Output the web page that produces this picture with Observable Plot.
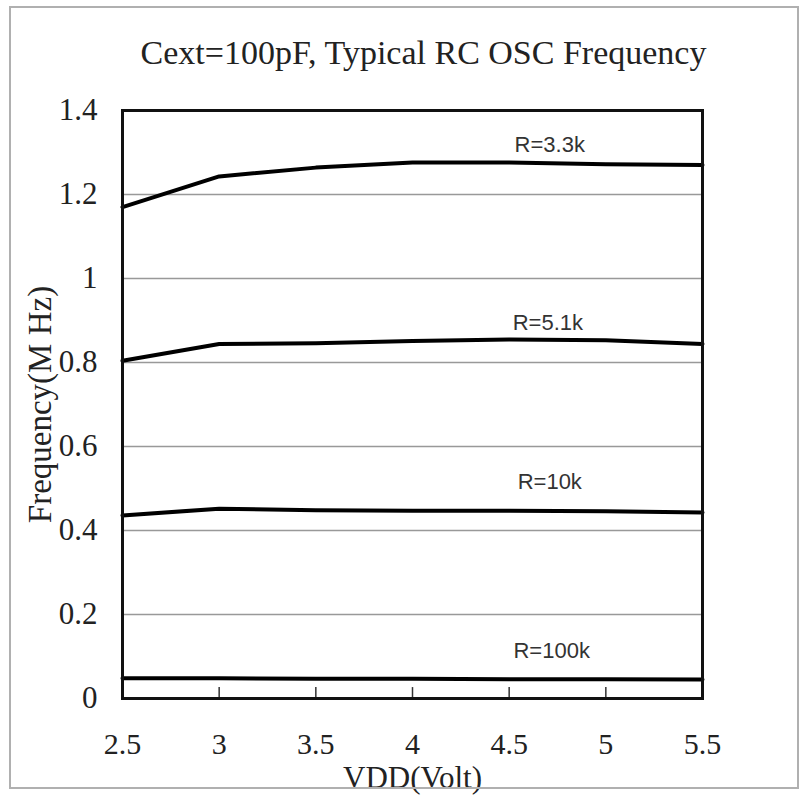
<!DOCTYPE html>
<html>
<head>
<meta charset="utf-8">
<script src="https://cdn.jsdelivr.net/npm/d3@7"></script>
<script src="https://cdn.jsdelivr.net/npm/@observablehq/plot@0.6"></script>
<style>
  html, body { margin: 0; padding: 0; background: #fff; }
  #wrap { position: relative; width: 800px; height: 798px; }
  #border { position: absolute; left: 9px; top: 6px; width: 786px; height: 779px; border: 2px solid #b0b0b0; pointer-events: none; }
</style>
</head>
<body>
<div id="wrap"><div id="border"></div><div id="chart"></div></div>
<script>
// ---- data ----
const vdd = [2.5, 3, 3.5, 4, 4.5, 5, 5.5];
const r33k = [1.17, 1.243, 1.264, 1.276, 1.276, 1.272, 1.27];
const r51k = [0.804, 0.844, 0.846, 0.851, 0.855, 0.853, 0.844];
const r10k = [0.436, 0.452, 0.448, 0.447, 0.447, 0.446, 0.443];
const r100k = [0.048, 0.048, 0.047, 0.047, 0.046, 0.046, 0.045];
const seriesNames = ["R=3.3k", "R=5.1k", "R=10k", "R=100k"];
const labelX = [4.71, 4.7, 4.71, 4.72];
const labelY = [1.318, 0.893, 0.516, 0.113];
const yTicks = [0, 0.2, 0.4, 0.6, 0.8, 1, 1.2, 1.4];
const xTicks = [2.5, 3, 3.5, 4, 4.5, 5, 5.5];
const innerTicks = [3, 3.5, 4, 4.5, 5];
const titleText = "Cext=100pF, Typical RC OSC Frequency";
const xLabel = "VDD(Volt)";
const yLabel = "Frequency(M Hz)";

const allSeries = [r33k, r51k, r10k, r100k];
const rows = seriesNames.flatMap((name, i) => vdd.map((v, j) => ({name, vdd: v, f: allSeries[i][j]})));
const labels = seriesNames.map((name, i) => ({name, x: labelX[i], y: labelY[i]}));

const serif = "'Liberation Serif', 'Times New Roman', serif";
const sans = "'Liberation Sans', Arial, sans-serif";

const chart = Plot.plot({
  width: 800,
  height: 798,
  marginLeft: 122,
  marginRight: 98,
  marginTop: 110,
  marginBottom: 100,
  style: {background: "transparent", fontFamily: serif, color: "#222"},
  x: {domain: [2.5, 5.5]},
  y: {domain: [0, 1.4]},
  marks: [
    Plot.ruleY(yTicks.slice(1, -1), {stroke: "#999", strokeWidth: 1.5}),
    Plot.ruleX(innerTicks, {y1: 0, y2: 0.026, stroke: "#333", strokeWidth: 1.5}),
    Plot.line(rows, {x: "vdd", y: "f", z: "name", stroke: "#000", strokeWidth: 4, strokeLinejoin: "round"}),
    Plot.text(labels, {x: "x", y: "y", text: "name", fontFamily: sans, fontSize: 22, fill: "#333"}),
    Plot.frame({stroke: "#111", strokeWidth: 3}),
    Plot.axisY({ticks: yTicks, tickSize: 0, tickPadding: 25, fontSize: 31, fontFamily: serif, fill: "#222",
      tickFormat: d => String(+d.toFixed(1)), label: null}),
    Plot.axisX({ticks: xTicks, tickSize: 0, tickPadding: 34, fontSize: 30, fontFamily: serif, fill: "#222",
      tickFormat: d => String(d), label: null}),
    Plot.text([titleText], {frameAnchor: "top", lineAnchor: "middle", dy: -57, dx: 11, fontSize: 34, fontFamily: serif, fill: "#222"}),
    Plot.text([xLabel], {frameAnchor: "bottom", lineAnchor: "middle", dy: 80, dx: 0, fontSize: 31, fontFamily: serif, fill: "#222"}),
    Plot.text([yLabel], {frameAnchor: "left", lineAnchor: "middle", textAnchor: "middle", dx: -82, dy: 0, rotate: -90, fontSize: 33, fontFamily: serif, fill: "#222"})
  ]
});
document.getElementById("chart").appendChild(chart);
</script>
</body>
</html>
